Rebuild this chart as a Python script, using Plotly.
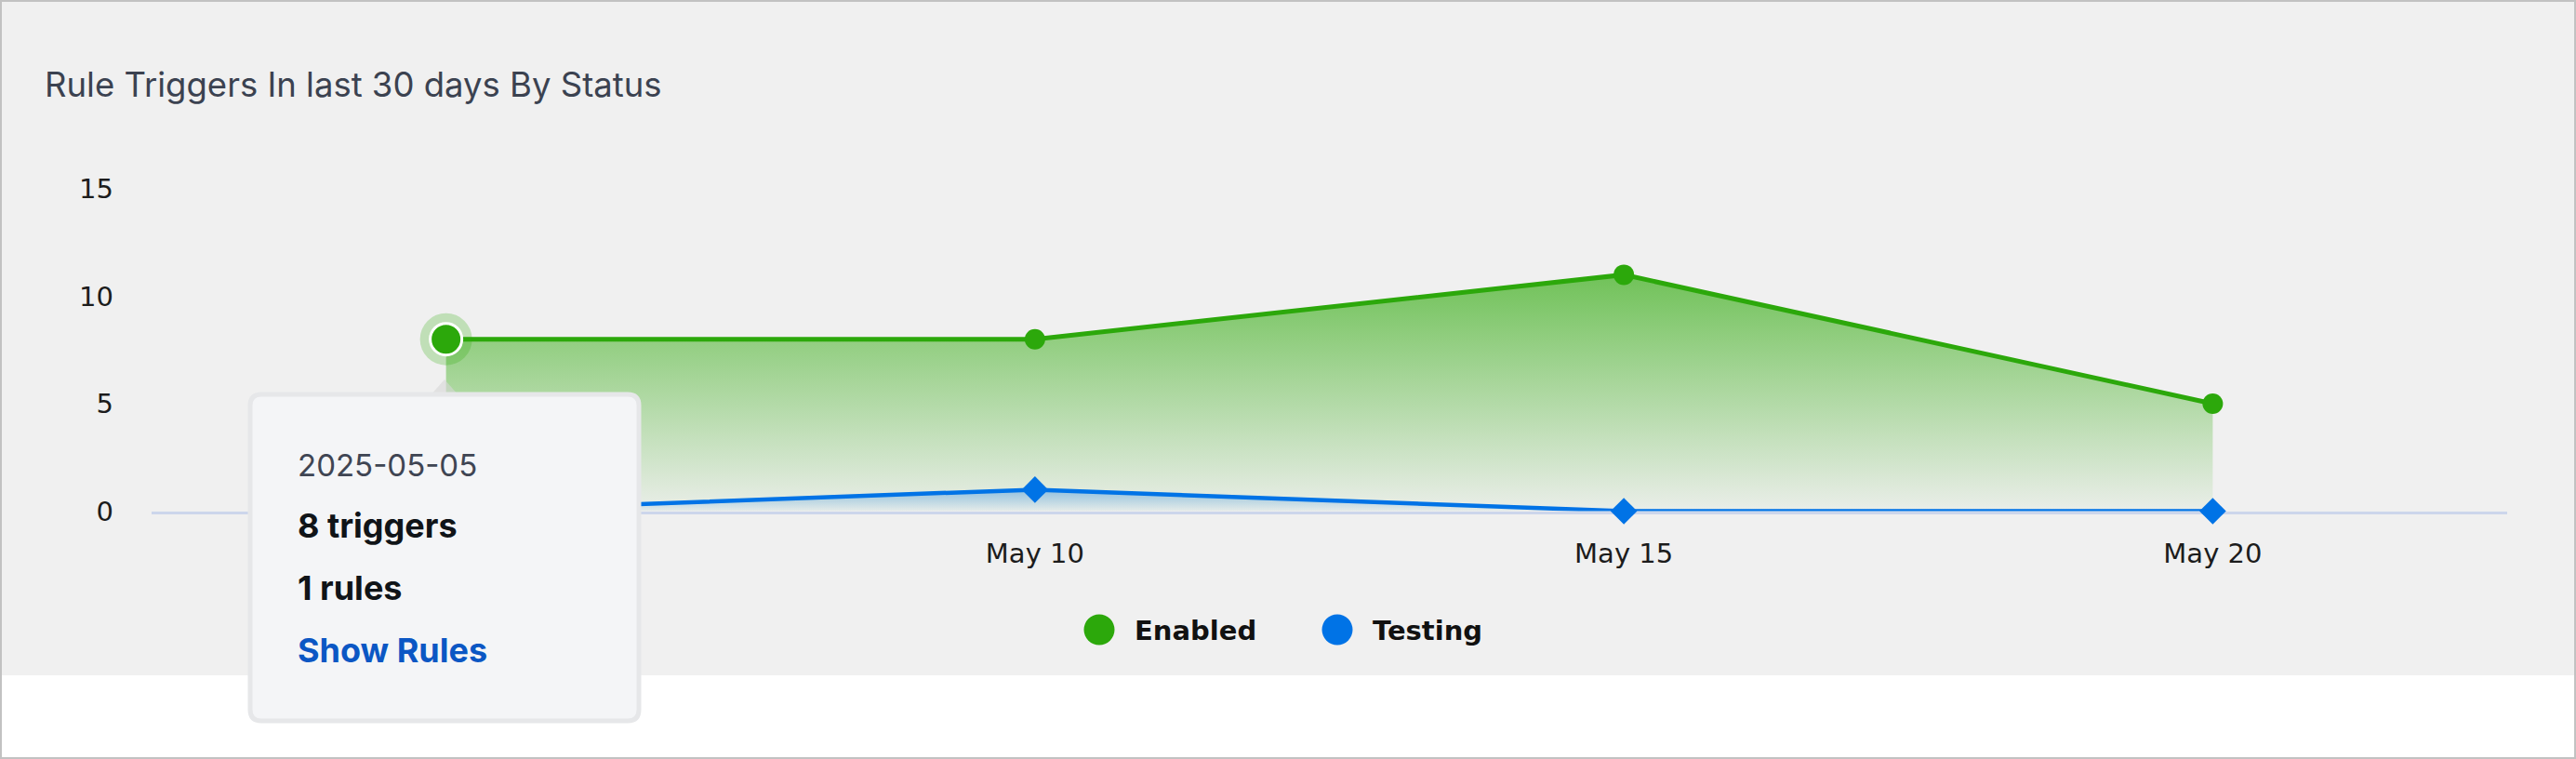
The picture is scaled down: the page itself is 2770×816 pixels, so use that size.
import plotly.graph_objects as go

# ---- data ----
dates = ["2025-05-05", "2025-05-10", "2025-05-15", "2025-05-20"]
enabled = [8, 8, 11, 5]
testing = [0, 1, 0, 0]
y_ticks = [0, 5, 10, 15]
# the May 5 label is hidden behind the tooltip in the reference
x_ticks = ["2025-05-10", "2025-05-15", "2025-05-20"]
x_tick_labels = ["May 10", "May 15", "May 20"]
series_names = ["Enabled", "Testing"]
title_text = "Rule Triggers In last 30 days By Status"
tooltip_index = 0
tooltip_rules = 1

# ---- layout constants ----
W, H = 2770, 816
GREEN = "#2ca80b"
BLUE = "#0073e6"
BG = "#f0f0f0"


def px(x):
    return x / W


def py(y):
    return 1 - y / H


fig = go.Figure()

fig.add_trace(go.Scatter(
    x=dates, y=enabled, name=series_names[0], mode="lines+markers",
    line=dict(color=GREEN, width=5),
    marker=dict(symbol="circle", size=22, color=GREEN),
    fill="tozeroy",
    fillgradient=dict(type="vertical",
                      colorscale=[[0, "rgba(46,170,10,0.03)"],
                                  [1, "rgba(46,170,10,0.66)"]]),
    cliponaxis=False, showlegend=False, hoverinfo="skip",
))

fig.add_trace(go.Scatter(
    x=dates, y=testing, name=series_names[1], mode="lines+markers",
    line=dict(color=BLUE, width=4.5),
    marker=dict(symbol="diamond", size=22, color=BLUE),
    fill="tozeroy",
    fillgradient=dict(type="vertical",
                      colorscale=[[0, "rgba(0,115,230,0.02)"],
                                  [1, "rgba(0,115,230,0.35)"]]),
    cliponaxis=False, showlegend=False, hoverinfo="skip",
))

# highlighted (hovered) point
fig.add_trace(go.Scatter(
    x=[dates[tooltip_index]], y=[enabled[tooltip_index]], mode="markers",
    marker=dict(size=56, color="rgba(46,170,10,0.25)"),
    cliponaxis=False, showlegend=False, hoverinfo="skip",
))
fig.add_trace(go.Scatter(
    x=[dates[tooltip_index]], y=[enabled[tooltip_index]], mode="markers",
    marker=dict(size=34, color=GREEN, line=dict(color="white", width=3)),
    cliponaxis=False, showlegend=False, hoverinfo="skip",
))

shapes = []
# grey card background
shapes.append(dict(type="rect", xref="paper", yref="paper", layer="below",
                   x0=0, x1=1, y0=py(726), y1=1, fillcolor=BG, line_width=0))
# outer border
shapes.append(dict(type="rect", xref="paper", yref="paper", layer="above",
                   x0=px(1), x1=px(W - 1), y0=py(H - 1), y1=py(1),
                   line=dict(color="#c2c2c2", width=2), fillcolor="rgba(0,0,0,0)"))

# tooltip arrow
ax_c = 478
shapes.append(dict(type="path", xref="paper", yref="paper", layer="above",
                   path=f"M {px(ax_c-16)} {py(426)} L {px(ax_c)} {py(408)} L {px(ax_c+16)} {py(426)} Z",
                   fillcolor="rgba(215,215,215,0.6)", line_width=0))
# tooltip box (rounded)
x0, x1, y0, y1, r = 269, 687, 424, 775, 12


def rounded(x0, y0, x1, y1, r):
    return (f"M {px(x0+r)} {py(y0)} L {px(x1-r)} {py(y0)} "
            f"Q {px(x1)} {py(y0)} {px(x1)} {py(y0+r)} L {px(x1)} {py(y1-r)} "
            f"Q {px(x1)} {py(y1)} {px(x1-r)} {py(y1)} L {px(x0+r)} {py(y1)} "
            f"Q {px(x0)} {py(y1)} {px(x0)} {py(y1-r)} L {px(x0)} {py(y0+r)} "
            f"Q {px(x0)} {py(y0)} {px(x0+r)} {py(y0)} Z")


shapes.append(dict(type="path", xref="paper", yref="paper", layer="above",
                   path=rounded(x0, y0, x1, y1, r),
                   fillcolor="#f4f5f7", line=dict(color="#e6e7e9", width=5)))

# legend circles
leg = [(1182, GREEN), (1438, BLUE)]
for cx, col in leg:
    shapes.append(dict(type="circle", xref="paper", yref="paper", layer="above",
                       x0=px(cx - 16.5), x1=px(cx + 16.5), y0=py(677 + 16.5), y1=py(677 - 16.5),
                       fillcolor=col, line_width=0))

annotations = []
annotations.append(dict(text=title_text, xref="paper", yref="paper", x=px(46), y=py(91),
                        xanchor="left", yanchor="middle", showarrow=False,
                        font=dict(family="Inter", size=36.5, color="#3b4250")))
# legend labels
for (cx, col), name in zip(leg, series_names):
    annotations.append(dict(text=name, xref="paper", yref="paper", x=px(cx + 36), y=py(678),
                            xanchor="left", yanchor="middle", showarrow=False,
                            font=dict(family="DejaVu Sans", size=29, color="#111111", weight="bold")))
# tooltip texts
tip_lines = [
    (dates[tooltip_index], 500, "#3f4553", "normal", 33),
    (f"{enabled[tooltip_index]} triggers", 565, "#101418", "bold", 36),
    (f"{tooltip_rules} rules", 632, "#101418", "bold", 36),
    ("Show Rules", 699, "#0b57c4", "bold", 36),
]
for txt, yc, col, wt, sz in tip_lines:
    annotations.append(dict(text=txt, xref="paper", yref="paper", x=px(318), y=py(yc),
                            xanchor="left", yanchor="middle", showarrow=False,
                            font=dict(family="Inter", size=sz, color=col, weight=wt)))

fig.update_layout(
    width=W, height=H, autosize=False,
    margin=dict(l=0, r=0, t=0, b=0, pad=0),
    paper_bgcolor="white", plot_bgcolor="rgba(0,0,0,0)",
    template="none",
    shapes=shapes, annotations=annotations, showlegend=False,
    xaxis=dict(domain=[px(163), px(2696)], type="date",
               range=["2025-05-02 12:00", "2025-05-22 12:00"],
               tickvals=x_ticks, ticktext=x_tick_labels, ticks="",
               showgrid=False, zeroline=False, showline=True,
               linecolor="#ccd6eb", linewidth=3, layer="below traces",
               ticklabelstandoff=18, automargin=False,
               tickfont=dict(family="DejaVu Sans", size=29, color="#1c1c1c")),
    yaxis=dict(domain=[py(549.5), py(203)], range=[0, 15],
               tickvals=y_ticks, ticks="", showgrid=False, zeroline=False,
               showline=False, ticklabelstandoff=40, automargin=False,
               tickfont=dict(family="DejaVu Sans", size=29, color="#1c1c1c")),
)

fig.write_html("out.html", config={"displayModeBar": False},
               post_script="document.body.style.margin='0';document.body.style.overflow='hidden';")
